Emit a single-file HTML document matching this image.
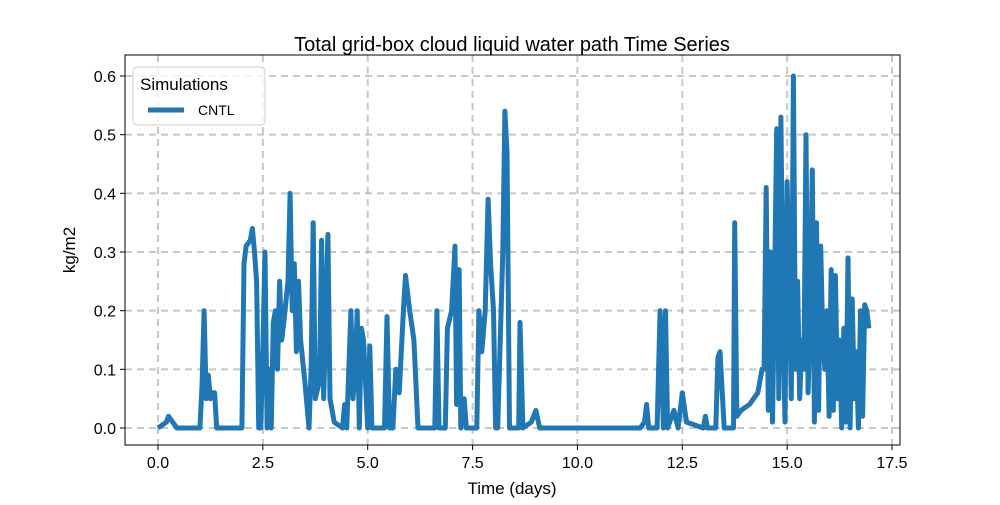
<!DOCTYPE html>
<html><head><meta charset="utf-8"><style>
body{margin:0;background:#fff;font-family:"Liberation Sans","DejaVu Sans",sans-serif}
</style></head><body>
<svg id="c" width="1000" height="500" xmlns="http://www.w3.org/2000/svg"></svg>
<script>
const times=[0,0.1,0.2,0.25,0.3,0.35,0.45,1.0,1.05,1.1,1.15,1.2,1.25,1.3,1.35,1.4,2.0,2.05,2.1,2.2,2.25,2.3,2.35,2.4,2.45,2.5,2.55,2.6,2.65,2.7,2.75,2.8,2.85,2.9,2.95,3.0,3.1,3.15,3.2,3.25,3.3,3.35,3.4,3.5,3.6,3.65,3.7,3.75,3.85,3.9,3.95,4.05,4.1,4.2,4.4,4.45,4.5,4.6,4.65,4.7,4.75,4.8,4.85,4.9,5.0,5.05,5.1,5.3,5.4,5.46,5.52,5.6,5.67,5.75,5.85,5.9,6.0,6.1,6.2,6.3,6.6,6.65,6.7,6.85,6.9,7.0,7.08,7.12,7.18,7.22,7.3,7.35,7.4,7.6,7.65,7.72,7.8,7.87,7.93,8.0,8.05,8.1,8.22,8.27,8.32,8.38,8.45,8.6,8.63,8.7,8.9,9.01,9.1,11.5,11.6,11.65,11.7,11.9,11.97,12.05,12.1,12.15,12.3,12.4,12.5,12.6,13.0,13.05,13.1,13.3,13.35,13.4,13.5,13.72,13.75,13.8,13.9,14.1,14.3,14.4,14.45,14.5,14.55,14.6,14.65,14.7,14.75,14.8,14.85,14.9,14.95,15.0,15.05,15.1,15.15,15.2,15.25,15.3,15.35,15.4,15.45,15.5,15.55,15.6,15.65,15.7,15.75,15.8,15.85,15.9,15.95,16.0,16.05,16.1,16.15,16.2,16.25,16.3,16.35,16.4,16.45,16.5,16.55,16.6,16.65,16.7,16.75,16.8,16.85,16.9,16.95,17.0];
const cntl=[0,0.005,0.01,0.02,0.015,0.01,0,0,0.07,0.2,0.05,0.09,0.05,0.06,0.06,0,0,0.28,0.31,0.32,0.34,0.3,0.25,0,0,0.14,0.3,0,0.1,0,0.18,0.2,0.1,0.25,0.15,0.18,0.25,0.4,0.2,0.28,0.13,0.25,0.15,0.08,0,0.1,0.35,0.05,0.08,0.32,0.05,0.33,0.05,0.01,0,0.04,0,0.2,0.05,0.1,0.2,0,0.17,0.15,0,0.14,0,0,0,0.19,0,0,0.1,0.06,0.2,0.26,0.2,0.15,0,0,0,0.2,0,0,0.17,0.2,0.31,0.04,0.27,0,0.05,0,0,0,0.2,0.13,0.2,0.39,0.28,0.2,0,0,0.3,0.54,0.47,0,0,0,0.18,0,0.01,0.03,0,0,0.01,0.04,0,0,0.2,0,0.2,0,0.03,0,0.06,0.01,0,0.02,0,0,0.12,0.13,0,0,0.35,0.02,0.03,0.04,0.06,0.1,0.1,0.41,0.03,0.3,0.01,0.25,0.51,0.05,0.53,0.2,0.01,0.42,0.25,0.05,0.6,0.1,0.25,0.05,0.15,0.1,0.5,0.06,0.2,0.44,0.01,0.35,0.03,0.31,0.15,0.1,0.2,0.02,0.27,0.03,0.26,0.05,0.15,0,0.17,0.01,0.29,0,0.22,0.05,0.13,0,0.2,0.02,0.21,0.2,0.17];
const xTicks=[0,2.5,5,7.5,10,12.5,15,17.5];
const yTicks=[0,0.1,0.2,0.3,0.4,0.5,0.6];
const X0=125,X1=900,Y0=55,Y1=445;
const xs=t=>158+t*(892-158)/17.5;
const ys=v=>428-v*(428-76)/0.6;
const svg=document.getElementById('c');
const NS='http://www.w3.org/2000/svg';
function mk(tag,attrs,parent){const e=document.createElementNS(NS,tag);for(const k in attrs)e.setAttribute(k,attrs[k]);(parent||svg).appendChild(e);return e;}
const grid=mk('g',{});


xTicks.forEach(t=>{
 const l=mk('line',{x1:xs(t),x2:xs(t),y1:Y0,y2:Y1,stroke:'#b0b0b0','stroke-width':2,'stroke-dasharray':'7,5','stroke-opacity':0.7},grid);
 
 
 mk('line',{x1:xs(t),x2:xs(t),y1:Y1,y2:Y1+5,stroke:'#000'});
 const tx=mk('text',{x:xs(t),y:Y1+23,'text-anchor':'middle','font-size':16});
 tx.textContent=t.toFixed(1);
 
 
});
yTicks.forEach(v=>{
 const l=mk('line',{x1:X0,x2:X1,y1:ys(v),y2:ys(v),stroke:'#b0b0b0','stroke-width':2,'stroke-dasharray':'7,5','stroke-opacity':0.7},grid);
 
 
 mk('line',{x1:X0-5,x2:X0,y1:ys(v),y2:ys(v),stroke:'#000'});
 const tx=mk('text',{x:X0-9,y:ys(v)+6,'text-anchor':'end','font-size':16});
 tx.textContent=v.toFixed(1);
 
 
});
const d=times.map((t,i)=>(i?'L':'M')+xs(t).toFixed(1)+','+ys(cntl[i]).toFixed(1)).join('');
const p=mk('path',{d:d,fill:'none',stroke:'#1f77b4','stroke-width':5,'stroke-linejoin':'round'});


const fr=mk('rect',{x:X0,y:Y0,width:X1-X0,height:Y1-Y0,fill:'none',stroke:'#000','stroke-width':1});


</script>
<svg style="position:absolute;left:0;top:0" width="1000" height="500">
<text x="512" y="51" text-anchor="middle" font-size="20" font-family="Liberation Sans, sans-serif">Total grid-box cloud liquid water path Time Series</text>
<text x="512" y="494" text-anchor="middle" font-size="17" font-family="Liberation Sans, sans-serif">Time (days)</text>
<text transform="translate(75,250) rotate(-90)" text-anchor="middle" font-size="17" font-family="Liberation Sans, sans-serif">kg/m2</text>
<g>
<rect x="133" y="67" width="132" height="58" rx="4" fill="#fff" fill-opacity="0.8" stroke="#ccc"/>
<text x="140" y="90" font-size="17" font-family="Liberation Sans, sans-serif">Simulations</text>
<line x1="148" y1="110" x2="184" y2="110" stroke="#1f77b4" stroke-width="5"/>
<text x="198" y="115" font-size="14" font-family="Liberation Sans, sans-serif">CNTL</text>
</g>
</svg>
</body></html>
